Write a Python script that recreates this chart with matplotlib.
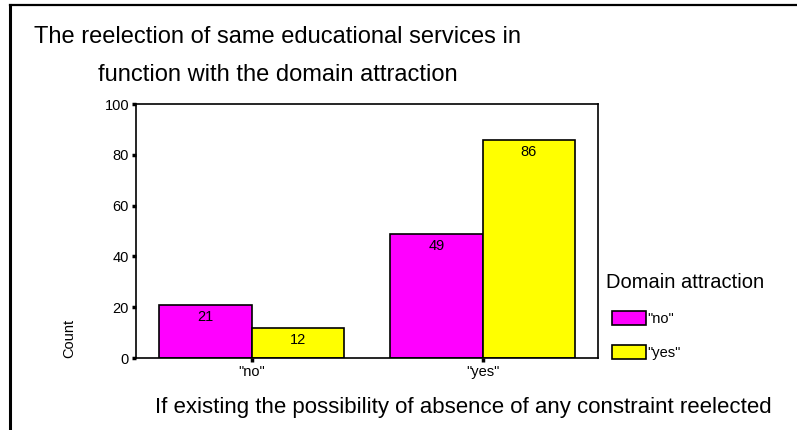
import numpy as np
import matplotlib.pyplot as plt
from matplotlib.lines import Line2D

plt.rcParams['font.family'] = ['Liberation Sans', 'DejaVu Sans']

categories = ['"no"', '"yes"']
series_names = ['"no"', '"yes"']
counts_no = [21, 49]
counts_yes = [12, 86]
colors = ['#ff00ff', '#ffff00']
yticks = [0, 20, 40, 60, 80, 100]

W, H = 797, 430
fig = plt.figure(figsize=(W / 100, H / 100), dpi=100)
ax = fig.add_axes([136 / W, 1 - 358 / H, 462 / W, 254 / H])

x = np.arange(len(categories))
width = 0.4
b1 = ax.bar(x - width / 2, counts_no, width, color=colors[0], edgecolor='black', linewidth=1.2, label=series_names[0])
b2 = ax.bar(x + width / 2, counts_yes, width, color=colors[1], edgecolor='black', linewidth=1.2, label=series_names[1])

for bars in (b1, b2):
    for rect in bars:
        ax.annotate(str(int(rect.get_height())),
                    (rect.get_x() + rect.get_width() / 2, rect.get_height()),
                    xytext=(0, -12), textcoords='offset pixels',
                    ha='center', va='center', fontsize=10.5)

ax.set_xlim(-0.5, 1.5)
ax.set_ylim(0, 100)
ax.set_yticks(yticks)
ax.set_xticks(x)
ax.set_xticklabels(categories)
ax.tick_params(axis='both', direction='out', length=3, width=2.5, labelsize=10.5, pad=2)
for sp in ax.spines.values():
    sp.set_linewidth(1.2)

leg = ax.legend(loc='upper left',
                bbox_to_anchor=(612 / W, 1 - 311 / H), bbox_transform=fig.transFigure,
                frameon=False, fontsize=10.5,
                handlelength=2.3, handleheight=1.1, handletextpad=0.1,
                labelspacing=1.3, borderpad=0, borderaxespad=0)
fig.text(606 / W, 1 - 283 / H, 'Domain attraction', ha='left', va='center', fontsize=14.5)

fig.text(278 / W, 1 - 37 / H, 'The reelection of same educational services in',
         ha='center', va='center', fontsize=17)
fig.text(278 / W, 1 - 75 / H, 'function with the domain attraction',
         ha='center', va='center', fontsize=17)
fig.text(463 / W, 1 - 408 / H, 'If existing the possibility of absence of any constraint reelected',
         ha='center', va='center', fontsize=16)
fig.text(69 / W, 1 - 358 / H, 'Count', rotation=90, ha='center', va='bottom', fontsize=10.5)

# outer frame (left and top edges only)
fig.add_artist(Line2D([10 / W, 10 / W], [0, 1 - 5 / H], color='black', linewidth=2.2, transform=fig.transFigure))
fig.add_artist(Line2D([10 / W, 1], [1 - 5 / H, 1 - 5 / H], color='black', linewidth=1.6, transform=fig.transFigure))

fig.savefig('out.png', dpi=100)
